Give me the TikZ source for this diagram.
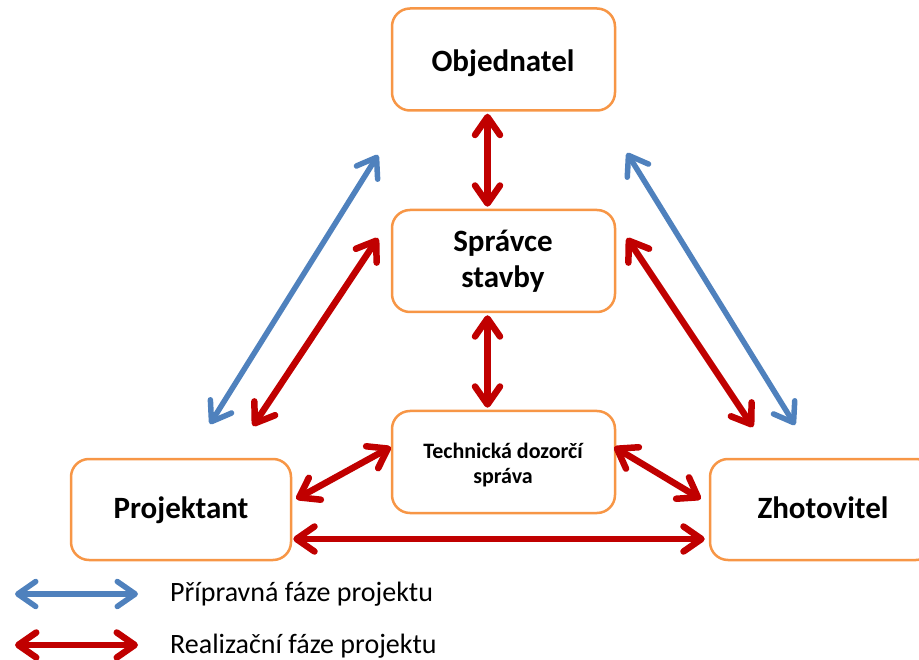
\documentclass[tikz,border=0pt]{standalone}
\usepackage{fontspec}
\setmainfont{Carlito}
\usetikzlibrary{arrows.meta}
\definecolor{boxor}{HTML}{F79646}
\definecolor{ablue}{HTML}{4F81BD}
\definecolor{ared}{HTML}{C00000}
\begin{document}
\begin{tikzpicture}[x=1pt,y=-1pt,
  box/.style={draw=boxor, line width=2.5pt, rounded corners=18pt, fill=white,
    minimum width=223pt, minimum height=102pt, inner sep=0pt},
  bigtext/.style={anchor=base, inner sep=0pt, font=\fontsize{31}{36}\selectfont\bfseries},
  smalltext/.style={anchor=base, inner sep=0pt, font=\fontsize{22}{26}\selectfont\bfseries},
  tipa/.tip={Straight Barb[length=18pt,width=25pt,round]},
  redarr/.style={draw=ared, line width=6.5pt, tipa-tipa},
  bluearr/.style={draw=ablue, line width=5.5pt, tipa-tipa},
  legtext/.style={anchor=base west, inner sep=0pt, font=\fontsize{28}{32}\selectfont}]
\useasboundingbox (0,0) rectangle (919,660);
\clip (0,0) rectangle (919,660);
% boxes
\node[box] (obj) at (503.5,59.5) {};
\node[box] (spr) at (503.5,261) {};
\node[box] (tds) at (503.5,462) {};
\node[box, minimum width=220pt, minimum height=101pt] (pro) at (181,509.5) {};
\node[box, minimum width=224pt, minimum height=101pt] (zho) at (822,509.5) {};
% texts
\node[bigtext] (objt) at (503,71.5) {Objednatel};
\node[bigtext] (sprt1) at (503,251.5) {Správce};
\node[bigtext] (sprt2) at (503,288) {stavby};
\node[smalltext] (tdst1) at (503,458) {Technická dozorčí};
\node[smalltext] (tdst2) at (503,483) {správa};
\node[bigtext] (prot) at (181,518) {Projektant};
\node[bigtext] (zhot) at (823,518) {Zhotovitel};
% free ends
\coordinate (lbt) at (378,155);
\coordinate (lbb) at (210,424);
\coordinate (lrt) at (378,238);
\coordinate (lrb) at (253,426);
\coordinate (rbt) at (627,153);
\coordinate (rbb) at (795,425);
\coordinate (rrt) at (627,238);
\coordinate (rrb) at (753,427);
% arrows
\draw[redarr] ([xshift=-16pt,yshift=-2pt]obj.south) -- ([xshift=-16pt,yshift=2pt]spr.north);
\draw[redarr] ([xshift=-16pt,yshift=-2pt]spr.south) -- ([xshift=-16pt,yshift=2pt]tds.north);
\draw[bluearr] (lbt) -- (lbb);
\draw[redarr] (lrt) -- (lrb);
\draw[bluearr] (rbt) -- (rbb);
\draw[redarr] (rrt) -- (rrb);
\draw[redarr] ([yshift=15pt]tds.west) -- ([xshift=4pt,yshift=10.5pt]pro.east);
\draw[redarr] ([xshift=-2pt,yshift=15pt]tds.east) -- ([xshift=-8pt,yshift=10.5pt]zho.west);
\draw[redarr] ([xshift=1pt,yshift=-29.5pt]pro.east) -- ([xshift=-4pt,yshift=-29.5pt]zho.west);
% legend
\coordinate (l1a) at (15,594);
\coordinate (l1b) at (138,594);
\coordinate (l2a) at (15,645);
\coordinate (l2b) at (138,645);
\draw[bluearr] (l1a) -- (l1b);
\draw[redarr] (l2a) -- (l2b);
\node[legtext] (t1) at (170,601.5) {Přípravná fáze projektu};
\node[legtext] (t2) at (170,653.5) {Realizační fáze projektu};
\end{tikzpicture}
\end{document}
